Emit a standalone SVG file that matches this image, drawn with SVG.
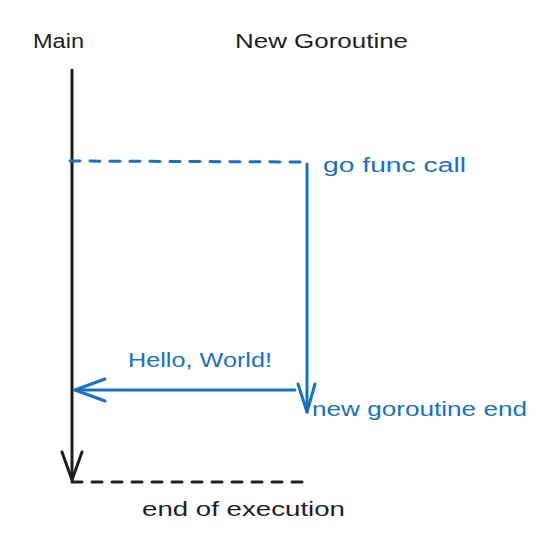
<svg xmlns="http://www.w3.org/2000/svg" width="549" height="551" viewBox="0 0 549 551">
<style>
.t{font-family:"Liberation Sans",Arial,sans-serif;font-size:20px}
.k{fill:#1e1e1e}
.b{fill:#1971c2}
.lk{stroke:#1e1e1e;fill:none;stroke-linecap:round;stroke-linejoin:round}
.lb{stroke:#1971c2;fill:none;stroke-linecap:round;stroke-linejoin:round}
</style>
<rect width="549" height="551" fill="#ffffff"/>
<g id="connectors">
<path class="lk" stroke-width="3" d="M72 70 L72 480"/>
<path class="lk" stroke-width="3" d="M62 452 L72 480 L82 452"/>
<path class="lb" stroke-width="3" stroke-dasharray="10 10" d="M70 161 L306 162"/>
<path class="lb" stroke-width="3" d="M307 164 L307 412"/>
<path class="lb" stroke-width="3" d="M298 384 L307 412 L315 384"/>
<path class="lb" stroke-width="3" d="M295 390 L75 390"/>
<path class="lb" stroke-width="3" d="M105 379 L75 390 L105 401"/>
<path class="lk" stroke-width="3" stroke-dasharray="10 10" d="M72 482 L308 482"/>
</g>
<g id="main"><text class="t k" x="33" y="48" textLength="51" lengthAdjust="spacingAndGlyphs">Main</text></g>
<g id="new-goroutine"><text class="t k" x="235" y="48" textLength="173" lengthAdjust="spacingAndGlyphs">New Goroutine</text></g>
<g id="go-func-call"><text class="t b" x="323" y="172" textLength="143" lengthAdjust="spacingAndGlyphs">go func call</text></g>
<g id="hello-world"><text class="t b" x="128" y="367" textLength="144" lengthAdjust="spacingAndGlyphs">Hello, World!</text></g>
<g id="new-goroutine-end"><text class="t b" x="312" y="416" textLength="215" lengthAdjust="spacingAndGlyphs">new goroutine end</text></g>
<g id="end-of-execution"><text class="t k" x="142" y="516" textLength="203" lengthAdjust="spacingAndGlyphs">end of execution</text></g>
</svg>
